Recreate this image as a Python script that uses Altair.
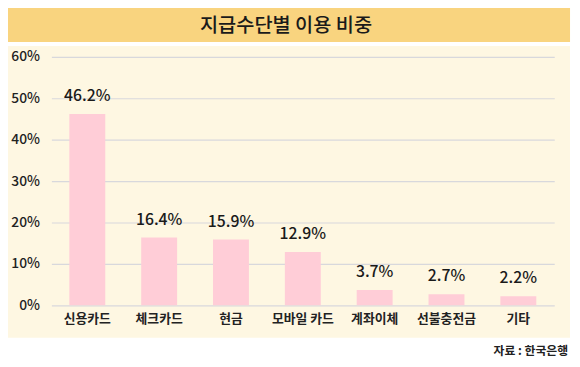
import altair as alt
import pandas as pd

categories = ["신용카드", "체크카드", "현금", "모바일 카드", "계좌이체", "선불충전금", "기타"]
values = [46.2, 16.4, 15.9, 12.9, 3.7, 2.7, 2.2]
labels = ["46.2%", "16.4%", "15.9%", "12.9%", "3.7%", "2.7%", "2.2%"]
title_text = "지급수단별 이용 비중"
source_text = "자료 : 한국은행"

df = pd.DataFrame({"cat": categories, "val": values, "label": labels})

FONT = "Noto Sans CJK KR"
W, H = 510, 252

x = alt.X("cat:N", sort=categories, title=None,
          scale=alt.Scale(paddingInner=0.5, paddingOuter=0.25),
          axis=alt.Axis(labelAngle=0, ticks=False, domain=False, labelFont=FONT,
                        labelFontSize=13, labelFontWeight="bold", labelColor="#222222",
                        labelPadding=7))
y = alt.Y("val:Q", title=None,
          scale=alt.Scale(domain=[0, 60]),
          axis=alt.Axis(values=[0, 10, 20, 30, 40, 50, 60], labelExpr="datum.value + '%'",
                        ticks=False, domain=False, labelFont=FONT, labelFontSize=14,
                        labelFontWeight=500, labelColor="#222222", labelPadding=12,
                        gridColor="#D8D8DC", gridWidth=1.2))

one = "datum.cat == '신용카드'"

bottom = alt.Chart(df).mark_rect(color="white", clip=False).encode(
    x=alt.value(-50), x2=alt.value(W + 30), y=alt.value(H + 33), y2=alt.value(H + 70)
).transform_filter(one)

gap = alt.Chart(df).mark_rect(color="white", clip=False).encode(
    x=alt.value(-50), x2=alt.value(W + 30), y=alt.value(-15), y2=alt.value(-11)
).transform_filter(one)

right_edge = alt.Chart(df).mark_rect(color="white", clip=False).encode(
    x=alt.value(W + 16), x2=alt.value(W + 30), y=alt.value(-60), y2=alt.value(H + 70)
).transform_filter(one)

banner = alt.Chart(df).mark_rect(color="#F9D47F", clip=False).encode(
    x=alt.value(-50), x2=alt.value(W + 16), y=alt.value(-60), y2=alt.value(-15)
).transform_filter(one)

title = alt.Chart(df).mark_text(font=FONT, fontSize=20, fontWeight=500, color="#1a1a1a",
                                 baseline="middle", clip=False).encode(
    x=alt.value(238), y=alt.value(-31), text=alt.value(title_text)
).transform_filter(one)

source = alt.Chart(df).mark_text(font=FONT, fontSize=12, fontWeight="bold", color="#222222",
                                  align="right", clip=False).encode(
    x=alt.value(W + 14), y=alt.value(H + 46), text=alt.value(source_text)
).transform_filter(one)

bars = alt.Chart(df).mark_bar(color="#FFCDD7").encode(x=x, y=y)

text = alt.Chart(df).mark_text(font=FONT, fontSize=16, fontWeight=500, color="#1a1a1a",
                                dy=-18).encode(x=x, y=y, text="label:N")

chart = alt.layer(bars, bottom, gap, right_edge, banner, title, source, text).properties(
    width=W, height=H,
    autosize=alt.AutoSizeParams(type="none"),
    padding={"left": 44, "top": 47, "right": 18, "bottom": 60},
    background="#FEF7E2"
).configure_view(stroke=None)

chart.save("out.html", embed_options={"renderer": "svg", "actions": False})
